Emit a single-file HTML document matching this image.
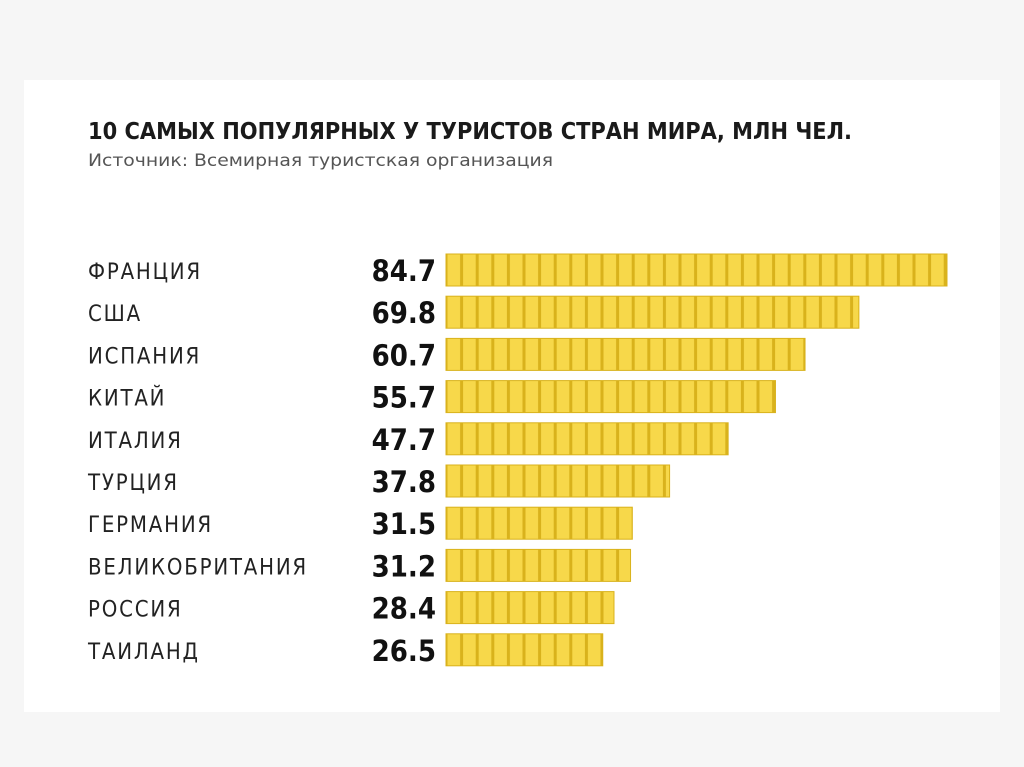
<!DOCTYPE html>
<html><head><meta charset="utf-8"><style>
html,body{margin:0;padding:0;background:#f6f6f6;}
svg{display:block;}
text{font-family:"DejaVu Sans Condensed","Liberation Sans Narrow","Liberation Sans",sans-serif;}
</style></head><body>
<svg id="chart" width="1024" height="767" viewBox="0 0 1024 767">
<defs>
<pattern id="cells" x="446" y="0" width="15.6" height="767" patternUnits="userSpaceOnUse">
<rect x="0" y="0" width="15.6" height="767" fill="#d9b21c"/>
<rect x="1.5" y="0" width="12.6" height="767" fill="#f7d84a"/>
</pattern>
</defs>
<rect x="24" y="80" width="976" height="632" fill="#ffffff"/>
<text x="88" y="139" font-size="23" font-weight="bold" fill="#1a1a1a" textLength="764" lengthAdjust="spacingAndGlyphs">10 САМЫХ ПОПУЛЯРНЫХ У ТУРИСТОВ СТРАН МИРА, МЛН ЧЕЛ.</text>
<text x="88" y="166" font-size="17" fill="#555" textLength="465" lengthAdjust="spacingAndGlyphs">Источник: Всемирная туристская организация</text>
<g id="bars"></g>
</svg>
<script>
const countries=["ФРАНЦИЯ","США","ИСПАНИЯ","КИТАЙ","ИТАЛИЯ","ТУРЦИЯ","ГЕРМАНИЯ","ВЕЛИКОБРИТАНИЯ","РОССИЯ","ТАИЛАНД"];
const values=[84.7,69.8,60.7,55.7,47.7,37.8,31.5,31.2,28.4,26.5];
const labels=["84.7","69.8","60.7","55.7","47.7","37.8","31.5","31.2","28.4","26.5"];
const x0=446, pxPerUnit=501/84.7;
function xScale(v){return x0+v*pxPerUnit;}
function yScale(i){return 270+i*42.2;}
const g=document.getElementById('bars');
const ns="http://www.w3.org/2000/svg";
countries.forEach((c,i)=>{
  const cy=yScale(i);
  const t=document.createElementNS(ns,'text');
  
  
  t.setAttribute('x',88);t.setAttribute('y',cy+9);
  t.setAttribute('font-size','22');t.setAttribute('fill','#222');
  t.setAttribute('letter-spacing','1.8');
  t.textContent=c;g.appendChild(t);
  const v=document.createElementNS(ns,'text');
  
  
  v.setAttribute('x',436);v.setAttribute('y',cy+11);
  v.setAttribute('text-anchor','end');
  v.setAttribute('font-size','29');v.setAttribute('font-weight','bold');v.setAttribute('fill','#111');
  v.textContent=labels[i];g.appendChild(v);
  const r=document.createElementNS(ns,'rect');
  
  
  r.setAttribute('x',x0);r.setAttribute('y',cy-16);
  r.setAttribute('width',xScale(values[i])-x0);r.setAttribute('height',32);
  r.setAttribute('fill','url(#cells)');r.setAttribute('stroke','#d9b21c');r.setAttribute('stroke-width','1');
  g.appendChild(r);
});
</script>
</body></html>
